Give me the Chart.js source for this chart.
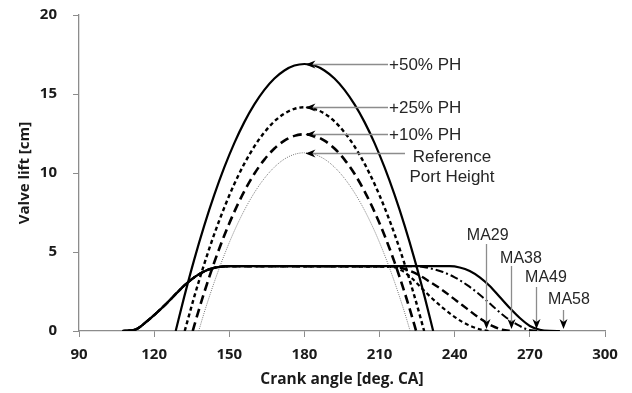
<!DOCTYPE html>
<html><head><meta charset="utf-8">
<script src="https://cdn.jsdelivr.net/npm/chart.js@4"></script>
<style>html,body{margin:0;padding:0;background:#fff}</style>
</head><body>
<canvas id="c" width="632" height="393" style="width:632px;height:393px"></canvas>
<script>
// ---- data ----
const xTicks = [90, 120, 150, 180, 210, 240, 270, 300];
const yTicks = [0, 5, 10, 15, 20];

const ph50Angle = [128.6,132,136,140,144,148,152,156,160,164,168,172,176,180,184,188,192,196,200,204,208,212,216,220,224,228,231.4];
const ph50Lift  = [0,2.16,4.52,6.67,8.61,10.35,11.89,13.22,14.34,15.26,15.98,16.49,16.80,16.9,16.80,16.49,15.98,15.26,14.34,13.22,11.89,10.35,8.61,6.67,4.52,2.16,0];

const ph25Angle = [132.2,136,140,144,148,152,156,160,164,168,172,176,180,184,188,192,196,200,204,208,212,216,220,224,227.8];
const ph25Lift  = [0,2.16,4.24,6.13,7.81,9.30,10.59,11.68,12.57,13.27,13.76,14.06,14.16,14.06,13.76,13.27,12.57,11.68,10.59,9.30,7.81,6.13,4.24,2.16,0];

const ph10Angle = [135.4,137.5,140,144,148,152,156,160,164,168,172,176,180,184,188,192,196,200,204,208,212,216,220,222.5,224.6];
const ph10Lift  = [0,1.15,2.44,4.34,6.04,7.54,8.84,9.95,10.85,11.55,12.05,12.35,12.45,12.35,12.05,11.55,10.85,9.95,8.84,7.54,6.04,4.34,2.44,1.15,0];

const refAngle = [137.8,140,144,148,152,156,160,164,168,172,176,180,184,188,192,196,200,204,208,212,216,220,222.2];
const refLift  = [0,1.17,3.09,4.81,6.33,7.64,8.75,9.66,10.37,10.88,11.18,11.28,11.18,10.88,10.37,9.66,8.75,7.64,6.33,4.81,3.09,1.17,0];

// shared opening of the mass-air (MA) curves
const maOpenAngle = [107.4,110,113,117,121,125,129,133,137,141,145,150];
const maOpenLift  = [0,0.03,0.12,0.6,1.15,1.75,2.4,3.02,3.5,3.85,4.03,4.1];

const ma29Angle = [215,219,223,227,231,235,239,243,247,251,253.5];
const ma29Lift  = [4.06,3.82,3.32,2.68,2.06,1.5,1.0,0.58,0.27,0.07,0];
const ma38Angle = [215,220,225,230,235,240,245,250,255,259,263];
const ma38Lift  = [4.1,3.93,3.6,3.12,2.6,2.0,1.4,0.8,0.32,0.08,0];
const ma49Angle = [225,230,235,240,245,250,255,260,265,269,273];
const ma49Lift  = [4.1,3.97,3.75,3.4,2.9,2.3,1.6,0.92,0.4,0.1,0];
const ma58Angle = [238,242,246,250,254,258,262,266,270,274,278,282];
const ma58Lift  = [4.1,4.02,3.8,3.4,2.85,2.15,1.45,0.82,0.32,0.08,0.01,0];

const portLabels = ['+50% PH', '+25% PH', '+10% PH', ['Reference', 'Port Height']];
const maLabels   = ['MA29', 'MA38', 'MA49', 'MA58'];
const maArrowAngle = [252.3, 262.3, 272.3, 283.4];

// ---- build datasets ----
function pts(xs, ys) { return xs.map((v, i) => ({x: v, y: ys[i]})); }
function maPts(xs, ys) { return pts(maOpenAngle.concat(xs), maOpenLift.concat(ys)); }

function ds(label, data, color, width, dash) {
  return {label, data, borderColor: color, borderWidth: width, borderDash: dash,
          pointRadius: 0, fill: false, cubicInterpolationMode: 'monotone', borderCapStyle: 'butt'};
}

const datasets = [
  ds('MA58', maPts(ma58Angle, ma58Lift), '#000', 2.2, []),
  ds('+50% PH', pts(ph50Angle, ph50Lift), '#000', 2.2, []),
  ds('+25% PH', pts(ph25Angle, ph25Lift), '#000', 2.4, [4, 3]),
  ds('+10% PH', pts(ph10Angle, ph10Lift), '#000', 2.6, [9, 5]),
  ds('Reference Port Height', pts(refAngle, refLift), '#777', 1, [1, 1.2]),
  ds('MA49', maPts(ma49Angle, ma49Lift), '#000', 2, [8, 3, 2, 3]),
  ds('MA38', maPts(ma38Angle, ma38Lift), '#000', 2.4, [8, 4]),
  ds('MA29', maPts(ma29Angle, ma29Lift), '#000', 2.2, [4, 3])
];

const portPeaks = [ph50Lift, ph25Lift, ph10Lift, refLift].map(a => Math.max(...a));

const annot = {
  id: 'annot',
  afterDatasetsDraw(chart) {
    const {ctx, scales: {x, y}} = chart;
    ctx.save();
    const lineCol = '#8c8c8c';
    const headCol = '#000';
    ctx.font = '17px "Liberation Sans", Arial, sans-serif';
    // port height arrows (pointing left to the peaks)
    portLabels.forEach((lab, i) => {
      const tipX = x.getPixelForValue(180) + 1;
      const py = Math.round(y.getPixelForValue(portPeaks[i])) + 0.5;
      const isRef = Array.isArray(lab);
      const endX = isRef ? 405 : 388;
      ctx.strokeStyle = lineCol; ctx.lineWidth = 1.3;
      ctx.beginPath(); ctx.moveTo(tipX + 6, py); ctx.lineTo(endX, py); ctx.stroke();
      ctx.fillStyle = headCol;
      ctx.beginPath(); ctx.moveTo(tipX, py); ctx.lineTo(tipX + 10, py - 4); ctx.lineTo(tipX + 7, py); ctx.lineTo(tipX + 10, py + 4); ctx.closePath(); ctx.fill();
      ctx.fillStyle = '#262626';
      if (isRef) {
        ctx.textAlign = 'center'; ctx.textBaseline = 'middle';
        ctx.fillText(lab[0], 452, py + 3.5);
        ctx.fillText(lab[1], 452, py + 24);
      } else {
        ctx.textAlign = 'left'; ctx.textBaseline = 'middle';
        ctx.fillText(lab, endX + 1, py + 0.5);
      }
    });
    // MA arrows (pointing down to the axis)
    ctx.font = '16px "Liberation Sans", Arial, sans-serif';
    const tops = [244, 266, 287, 310];
    const labX = [487.7, 521, 546, 569];
    const labY = [236, 258.3, 277.7, 299.3];
    maLabels.forEach((lab, i) => {
      const px = Math.round(x.getPixelForValue(maArrowAngle[i])) + 0.5;
      const tipY = y.getPixelForValue(0) - 2;
      ctx.strokeStyle = lineCol; ctx.lineWidth = 1.3;
      ctx.beginPath(); ctx.moveTo(px, tops[i]); ctx.lineTo(px, tipY - 6); ctx.stroke();
      ctx.fillStyle = headCol;
      ctx.beginPath(); ctx.moveTo(px, tipY); ctx.lineTo(px - 4, tipY - 10); ctx.lineTo(px, tipY - 7); ctx.lineTo(px + 4, tipY - 10); ctx.closePath(); ctx.fill();
      ctx.fillStyle = '#262626';
      ctx.textAlign = 'center'; ctx.textBaseline = 'middle';
      ctx.fillText(lab, labX[i], labY[i]);
    });
    ctx.restore();
  }
};

const tickFont = {family: '"Open Sans", sans-serif', size: 15, weight: 'bold'};

new Chart(document.getElementById('c'), {
  type: 'line',
  data: {datasets},
  options: {
    responsive: false, animation: false, devicePixelRatio: 1,
    layout: {padding: {top: 15, right: 27, left: 0, bottom: 0}},
    plugins: {legend: {display: false}, tooltip: {enabled: false}},
    scales: {
      x: {
        type: 'linear', min: 90, max: 300,
        afterBuildTicks: s => { s.ticks = xTicks.map(v => ({value: v})); },
        afterFit: s => { s.height = 62; s.paddingLeft = 0; s.paddingRight = 0; },
        ticks: {font: tickFont, color: '#1a1a1a', padding: 9, maxRotation: 0, autoSkip: false},
        grid: {drawOnChartArea: false, drawTicks: true, tickLength: 6, color: '#8c8c8c'},
        border: {color: '#8c8c8c', width: 1.3},
        title: {display: true, text: 'Crank angle [deg. CA]', font: {family: '"Open Sans", sans-serif', size: 15.5, weight: 'bold'}, color: '#1a1a1a', padding: {top: 0, bottom: 4}}
      },
      y: {
        type: 'linear', min: 0, max: 20,
        afterBuildTicks: s => { s.ticks = yTicks.map(v => ({value: v})); },
        afterFit: s => { s.width = 79; s.paddingTop = 0; s.paddingBottom = 0; },
        ticks: {font: tickFont, color: '#1a1a1a', padding: 16},
        grid: {drawOnChartArea: false, drawTicks: true, tickLength: 6, color: '#8c8c8c'},
        border: {color: '#8c8c8c', width: 1.3},
        title: {display: true, text: 'Valve lift [cm]', font: {family: '"Open Sans", sans-serif', size: 15, weight: 'bold'}, color: '#1a1a1a', padding: {top: 16, bottom: 0}}
      }
    }
  },
  plugins: [annot]
});
</script>
</body></html>
